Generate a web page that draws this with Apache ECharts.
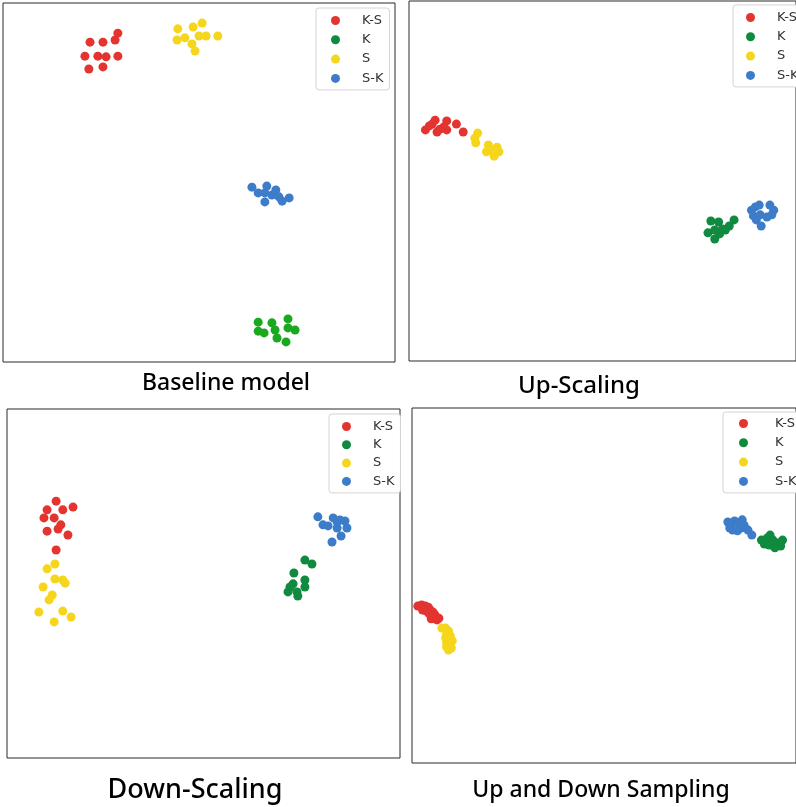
<!DOCTYPE html>
<html>
<head>
<meta charset="utf-8">
<script src="https://cdn.jsdelivr.net/npm/echarts@6/dist/echarts.min.js"></script>
<style>
  html, body { margin: 0; padding: 0; background: #fff; }
  #chart { width: 796px; height: 807px; }
</style>
</head>
<body>
<div id="chart"></div>
<script>
// class names, in legend order
var classes = ['K-S', 'K', 'S', 'S-K'];
var panelTitles = ['Baseline model', 'Up-Scaling', 'Down-Scaling', 'Up and Down Sampling'];

// embedding coordinates, each panel on a 0-100 scale (x right, y up)
// Baseline model
var baseKS = [[29.3,91.6],[28.6,89.7],[22.2,89.1],[25.5,89.1],[20.9,85.2],[24.2,85.2],[26.3,85.0],[29.3,85.2],[21.9,81.6],[25.5,82.2]];
var baseK  = [[65.1,11.1],[65.1,8.6],[66.6,8.1],[68.6,10.9],[69.4,8.9],[69.9,6.7],[72.7,12.0],[72.7,9.5],[74.5,8.9],[72.2,5.6]];
var baseS  = [[44.6,92.8],[48.5,93.3],[50.8,94.4],[44.4,89.7],[46.4,90.3],[50.0,90.8],[51.8,90.8],[54.8,90.8],[48.2,88.6],[49.0,86.6]];
var baseSK = [[63.5,48.7],[65.1,47.1],[67.3,49.0],[66.8,47.1],[69.6,47.9],[70.4,46.0],[71.2,44.8],[73.0,45.7],[66.8,44.6],[68.6,46.5]];

// Up-Scaling
var upKS = [[4.25,64.2],[6.0,65.8],[6.75,66.9],[7.25,63.6],[9.0,65.0],[9.75,66.7],[9.75,64.2],[12.25,65.8],[14.0,63.6],[5.25,65.3],[8.0,64.4]];
var upK  = [[78.0,38.9],[80.0,38.6],[77.25,35.6],[79.0,33.9],[80.25,35.3],[81.75,36.4],[82.75,37.5],[84.0,39.2],[81.0,36.7],[79.0,36.4]];
var upS  = [[17.75,63.3],[17.0,61.9],[17.25,60.6],[20.5,60.0],[20.0,58.1],[22.75,59.4],[23.25,58.1],[22.0,56.9],[21.0,58.6]];
var upSK = [[88.5,41.9],[89.5,42.8],[90.5,43.3],[93.25,43.3],[94.25,41.9],[90.75,40.6],[92.5,40.0],[93.75,40.6],[89.75,39.2],[91.0,37.5],[89.0,40.3]];

// Down-Scaling
var downKS = [[12.5,73.6],[10.2,71.1],[14.2,71.1],[16.8,71.9],[9.4,68.8],[12.0,68.8],[13.7,66.8],[10.2,65.0],[13.0,65.6],[15.5,63.9],[12.5,59.6]];
var downK  = [[75.8,56.7],[77.6,55.6],[73.0,53.0],[75.8,51.0],[75.8,49.0],[72.8,49.9],[71.5,47.6],[72.0,49.0],[74.0,46.4],[73.8,47.6]];
var downS  = [[12.2,55.6],[10.2,54.2],[12.2,51.3],[14.2,51.0],[14.8,50.1],[9.2,49.0],[11.5,46.7],[10.7,45.3],[8.1,41.8],[14.2,42.1],[16.3,40.4],[12.0,39.0]];
var downSK = [[79.1,69.1],[80.4,66.8],[81.7,66.5],[83.0,68.8],[84.0,65.9],[84.7,68.2],[86.0,67.9],[86.5,65.9],[85.0,63.6],[82.7,61.9],[84.0,67.6]];

// Up and Down Sampling
var udKS = [[1.5,44.2],[2.5,44.5],[3.5,44.2],[4.25,43.9],[2.75,43.1],[3.75,42.8],[4.75,43.1],[5.5,42.5],[4.5,42.0],[5.25,41.4],[6.0,41.7],[5.75,40.6],[6.5,40.3],[7.0,40.8],[5.0,40.6]];
var udK  = [[91.0,62.8],[91.75,61.7],[92.5,63.4],[93.25,64.2],[94.0,62.8],[93.0,61.4],[94.5,60.6],[95.25,62.0],[96.0,61.1],[96.5,62.8]];
var udS  = [[7.75,38.0],[8.75,38.0],[9.5,37.2],[9.0,36.3],[10.0,35.8],[8.75,35.2],[9.5,34.6],[10.5,34.4],[9.0,33.8],[10.0,33.2],[9.0,32.7],[10.25,32.4],[9.5,31.8]];
var udSK = [[82.25,67.9],[83.0,66.8],[84.0,68.2],[85.0,67.6],[86.0,68.5],[86.5,67.0],[83.5,65.6],[84.75,65.4],[85.75,66.2],[87.5,65.6],[88.5,64.2],[82.75,66.2]];

var panelData = [
  [baseKS, baseK, baseS, baseSK],
  [upKS, upK, upS, upSK],
  [downKS, downK, downS, downSK],
  [udKS, udK, udS, udSK]
];

var colors = ['#e3342f', '#0f8a3e', '#f6d61c', '#3d7cc9'];
var baseGreen = '#1aa81e';

// panel frames in page pixels
var grids = [
  { left: 3, top: 3, width: 392, height: 359 },
  { left: 409, top: 1, width: 400, height: 360 },
  { left: 7, top: 409, width: 393, height: 349 },
  { left: 412, top: 408, width: 400, height: 355 }
];
var legendPos = [
  { left: 316, top: 8, gap: 6.3, pad: [6, 6, 5, 15], textPad: 17 },
  { left: 733, top: 5, gap: 6.3, pad: [6, 6, 5, 13], textPad: 17 },
  { left: 329, top: 414, gap: 5.3, pad: [6, 6, 5, 13], textPad: 17 },
  { left: 723, top: 412, gap: 6.3, pad: [5, 6, 5, 16], textPad: 22 }
];
var titlePos = [
  { x: 226, y: 372, size: 23 },
  { x: 579, y: 374, size: 24 },
  { x: 195, y: 777, size: 27 },
  { x: 601, y: 779, size: 23 }
];

var chart = echarts.init(document.getElementById('chart'));

var gridOpt = [], xAxes = [], yAxes = [], series = [], legends = [], titles = [];
grids.forEach(function (g, p) {
  gridOpt.push({
    left: g.left, top: g.top, width: g.width, height: g.height,
    show: true, borderColor: '#2b2b2b', borderWidth: 1, backgroundColor: '#fff'
  });
  xAxes.push({ gridIndex: p, type: 'value', min: 0, max: 100, show: false });
  yAxes.push({ gridIndex: p, type: 'value', min: 0, max: 100, show: false });
  classes.forEach(function (c, i) {
    series.push({
      name: c,
      type: 'scatter',
      xAxisIndex: p,
      yAxisIndex: p,
      symbolSize: 9,
      itemStyle: { color: (p === 0 && i === 1) ? baseGreen : colors[i], opacity: 1 },
      data: panelData[p][i]
    });
  });
  var lp = legendPos[p];
  legends.push({
    orient: 'vertical',
    left: lp.left, top: lp.top,
    padding: lp.pad,
    itemGap: lp.gap,
    itemWidth: 9, itemHeight: 9,
    icon: 'circle',
    backgroundColor: '#fff',
    borderColor: '#d4d4d4', borderWidth: 1, borderRadius: 3,
    selectedMode: false,
    textStyle: { fontFamily: 'DejaVu Sans', fontSize: 13, color: '#333', padding: [0, 0, 0, lp.textPad] },
    data: classes.map(function (c, i) {
      return { name: c, itemStyle: { color: colors[i] } };
    })
  });
  var tp = titlePos[p];
  titles.push({
    text: panelTitles[p],
    left: tp.x, top: tp.y,
    textAlign: 'center',
    padding: 0,
    textStyle: { fontFamily: 'Noto Sans', fontWeight: 500, fontSize: tp.size, color: '#000' }
  });
});

chart.setOption({
  animation: false,
  backgroundColor: '#fff',
  title: titles,
  legend: legends,
  grid: gridOpt,
  xAxis: xAxes,
  yAxis: yAxes,
  series: series
});
</script>
</body>
</html>
